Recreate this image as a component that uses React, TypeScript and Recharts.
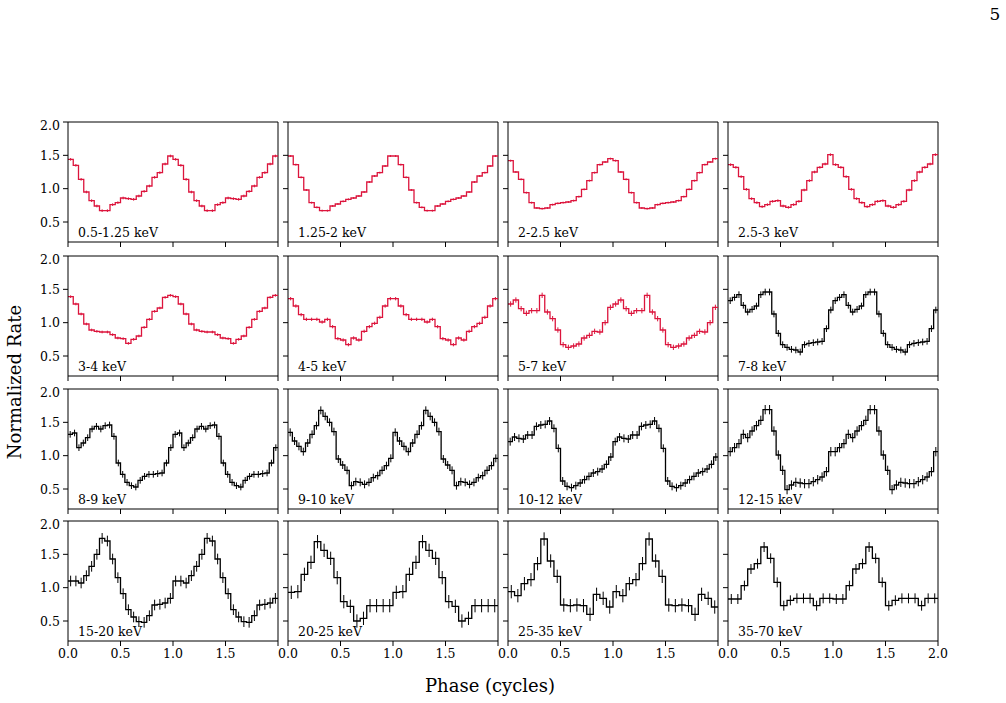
import React from "react";
import {
  ComposedChart,
  Line,
  Scatter,
  ErrorBar,
  XAxis,
  YAxis,
  ReferenceLine,
} from "recharts";

// energy band of each panel, row by row
const BANDS = [
  "0.5-1.25 keV", "1.25-2 keV", "2-2.5 keV", "2.5-3 keV",
  "3-4 keV", "4-5 keV", "5-7 keV", "7-8 keV",
  "8-9 keV", "9-10 keV", "10-12 keV", "12-15 keV",
  "15-20 keV", "20-25 keV", "25-35 keV", "35-70 keV",
];

// one pulse cycle per band (normalized rate per phase bin)
const P_05_125 = [1.44, 1.35, 1.14, 0.95, 0.82, 0.74, 0.67, 0.67, 0.76, 0.79, 0.86, 0.85, 0.84, 0.89, 0.96, 1.04, 1.17, 1.24, 1.37, 1.49];
const P_125_2 = [1.49, 1.36, 1.17, 0.98, 0.79, 0.72, 0.67, 0.67, 0.74, 0.77, 0.81, 0.84, 0.86, 0.89, 0.95, 1.10, 1.19, 1.24, 1.34, 1.49];
const P_2_25 = [1.42, 1.25, 1.14, 0.94, 0.79, 0.71, 0.70, 0.71, 0.76, 0.78, 0.79, 0.80, 0.82, 0.88, 0.99, 1.12, 1.24, 1.36, 1.40, 1.45];
const P_25_3 = [1.36, 1.32, 1.18, 0.99, 0.85, 0.79, 0.73, 0.76, 0.81, 0.82, 0.74, 0.72, 0.76, 0.81, 0.98, 1.12, 1.25, 1.32, 1.37, 1.51];
const P_3_4 = [1.39, 1.28, 1.13, 0.98, 0.89, 0.87, 0.86, 0.86, 0.82, 0.77, 0.76, 0.69, 0.75, 0.80, 0.93, 1.05, 1.17, 1.22, 1.38, 1.41];
const P_4_5 = [1.36, 1.25, 1.12, 1.05, 1.05, 1.05, 1.01, 1.05, 0.94, 0.76, 0.74, 0.67, 0.77, 0.74, 0.87, 0.94, 0.99, 1.08, 1.25, 1.36];
const P_5_7 = [1.28, 1.34, 1.21, 1.14, 1.18, 1.18, 1.41, 1.16, 1.06, 0.89, 0.67, 0.63, 0.65, 0.68, 0.77, 0.81, 0.87, 0.86, 1.00, 1.23];
const P_7_8 = [1.33, 1.38, 1.42, 1.26, 1.16, 1.20, 1.25, 1.42, 1.46, 1.46, 1.13, 0.84, 0.67, 0.63, 0.60, 0.59, 0.56, 0.67, 0.69, 0.70, 0.71, 0.72, 0.91, 1.19];
const P_8_9 = [1.32, 1.34, 1.12, 1.19, 1.27, 1.40, 1.44, 1.40, 1.45, 1.46, 1.29, 0.89, 0.72, 0.60, 0.55, 0.53, 0.63, 0.69, 0.72, 0.72, 0.73, 0.74, 0.89, 1.12];
const P_9_10 = [1.35, 1.22, 1.14, 1.06, 1.19, 1.32, 1.45, 1.68, 1.59, 1.50, 1.36, 0.95, 0.86, 0.78, 0.55, 0.61, 0.60, 0.57, 0.60, 0.67, 0.70, 0.78, 0.85, 0.96];
const P_10_12 = [1.21, 1.28, 1.26, 1.25, 1.31, 1.31, 1.44, 1.46, 1.47, 1.52, 1.41, 1.11, 0.62, 0.54, 0.52, 0.55, 0.59, 0.64, 0.69, 0.74, 0.76, 0.80, 0.87, 0.98];
const P_12_15 = [1.06, 1.12, 1.18, 1.32, 1.27, 1.37, 1.45, 1.53, 1.69, 1.69, 1.37, 1.01, 0.78, 0.49, 0.56, 0.60, 0.59, 0.58, 0.58, 0.61, 0.64, 0.68, 0.76, 1.06];
const P_15_20 = [1.10, 1.10, 1.07, 1.18, 1.32, 1.50, 1.74, 1.70, 1.43, 1.15, 0.91, 0.67, 0.56, 0.49, 0.48, 0.58, 0.74, 0.75, 0.77, 0.84];
const P_20_25 = [0.93, 0.94, 1.20, 1.38, 1.69, 1.56, 1.44, 1.15, 0.79, 0.72, 0.50, 0.54, 0.73, 0.73, 0.73, 0.73];
const P_25_35 = [0.94, 0.88, 1.06, 1.12, 1.36, 1.73, 1.40, 1.17, 0.74, 0.73, 0.74, 0.73, 0.60, 0.90, 0.84, 0.71];
const P_35_70 = [0.83, 0.83, 1.03, 1.28, 1.36, 1.61, 1.44, 1.08, 0.73, 0.81, 0.84, 0.84, 0.84, 0.73, 0.84, 0.84];

const PROFILES = [
  P_05_125, P_125_2, P_2_25, P_25_3,
  P_3_4, P_4_5, P_5_7, P_7_8,
  P_8_9, P_9_10, P_10_12, P_12_15,
  P_15_20, P_20_25, P_25_35, P_35_70,
];

// typical 1-sigma error per band
const ERRORS = [0.02, 0.015, 0.015, 0.02, 0.02, 0.025, 0.04, 0.05, 0.05, 0.06, 0.06, 0.07, 0.08, 0.1, 0.1, 0.075];

const SOFT_COUNT = 7; // soft bands are drawn in red

const PHASE_TICKS = [0, 0.5, 1, 1.5, 2];
const RATE_TICKS = [0.5, 1.0, 1.5, 2.0];

const FONT = "'DejaVu Serif', serif";
const RED = "#dc143c";
const COL_X = [68, 288, 508, 728];
const ROW_Y = [122, 256, 389, 521];
const PW = 210;
const PH = 120;
const LEFT = 50;
const TOP = 6;

// two cycles as left-edge steps, closed at phase 2
function stepPoints(values: number[]) {
  const n = values.length;
  const pts: { phase: number; rate: number }[] = [];
  for (let k = 0; k < 2 * n; k++) pts.push({ phase: k / n, rate: values[k % n] });
  pts.push({ phase: 2, rate: values[n - 1] });
  return pts;
}

function centerPoints(values: number[], err: number) {
  const n = values.length;
  const pts: { phase: number; rate: number; err: number }[] = [];
  for (let k = 0; k < 2 * n; k++) pts.push({ phase: (k + 0.5) / n, rate: values[k % n], err });
  return pts;
}

function Panel({ index }: { index: number }) {
  const row = Math.floor(index / 4);
  const col = index % 4;
  const color = index < SOFT_COUNT ? RED : "#000";
  const values = PROFILES[index];

  const xTick = (props: any) => {
    const { x, y, payload } = props;
    if (row !== 3 || (payload.value === 2 && col !== 3)) return <g />;
    return (
      <text x={x} y={y} dy="0.71em" textAnchor="middle" fontSize={12.5} fontFamily={FONT} fill="#000">
        {payload.value.toFixed(1)}
      </text>
    );
  };
  const yTick = (props: any) => {
    const { x, y, payload } = props;
    if (col !== 0) return <g />;
    return (
      <text x={x} y={y} dy="0.36em" textAnchor="end" fontSize={12.5} fontFamily={FONT} fill="#000">
        {payload.value.toFixed(1)}
      </text>
    );
  };

  return (
    <div style={{ position: "absolute", left: COL_X[col] - LEFT, top: ROW_Y[row] - TOP }}>
      <ComposedChart width={LEFT + PW + 10} height={TOP + PH + 30} margin={{ top: TOP, right: 10, bottom: 0, left: 0 }}>
        <XAxis
          type="number"
          dataKey="phase"
          domain={[0, 2]}
          ticks={PHASE_TICKS}
          allowDataOverflow
          height={30}
          tickSize={5}
          tickMargin={3}
          stroke="#000"
          tick={xTick}
        />
        <YAxis
          type="number"
          domain={[0.2, 2.0]}
          ticks={RATE_TICKS}
          allowDataOverflow
          width={LEFT}
          tickSize={5}
          tickMargin={3}
          stroke="#000"
          tick={yTick}
        />
        <ReferenceLine y={2.0} stroke="#000" strokeWidth={1} />
        <ReferenceLine x={2} stroke="#000" strokeWidth={1} />
        <Line
          data={stepPoints(values)}
          dataKey="rate"
          type="stepAfter"
          stroke={color}
          strokeWidth={1.3}
          dot={false}
          isAnimationActive={false}
        />
        <Scatter data={centerPoints(values, ERRORS[index])} dataKey="rate" shape={() => <g />} isAnimationActive={false}>
          <ErrorBar dataKey="err" direction="y" width={0} stroke={color} strokeWidth={1} isAnimationActive={false} />
        </Scatter>
      </ComposedChart>
    </div>
  );
}

export default function App() {
  return (
    <div style={{ position: "absolute", left: 0, top: 0, width: 1006, height: 703, background: "#fff", fontFamily: FONT }}>
      {BANDS.map((_, i) => (
        <Panel key={i} index={i} />
      ))}
      <svg width={1006} height={703} style={{ position: "absolute", left: 0, top: 0, pointerEvents: "none" }}>
        {BANDS.map((band, i) => (
          <text
            key={band}
            x={COL_X[i % 4] + 10}
            y={ROW_Y[Math.floor(i / 4)] + PH - 5}
            fontSize={12.5}
            fontFamily={FONT}
            fill="#000"
          >
            {band}
          </text>
        ))}
        <text x={21} y={382} transform="rotate(-90 21 382)" textAnchor="middle" fontSize={18} fontFamily={FONT} fill="#000">
          Normalized Rate
        </text>
        <text x={490} y={692} textAnchor="middle" fontSize={18} fontFamily={FONT} fill="#000">
          Phase (cycles)
        </text>
        <text x={995} y={20} textAnchor="middle" fontSize={17} fontFamily={FONT} fill="#000">
          5
        </text>
      </svg>
    </div>
  );
}
